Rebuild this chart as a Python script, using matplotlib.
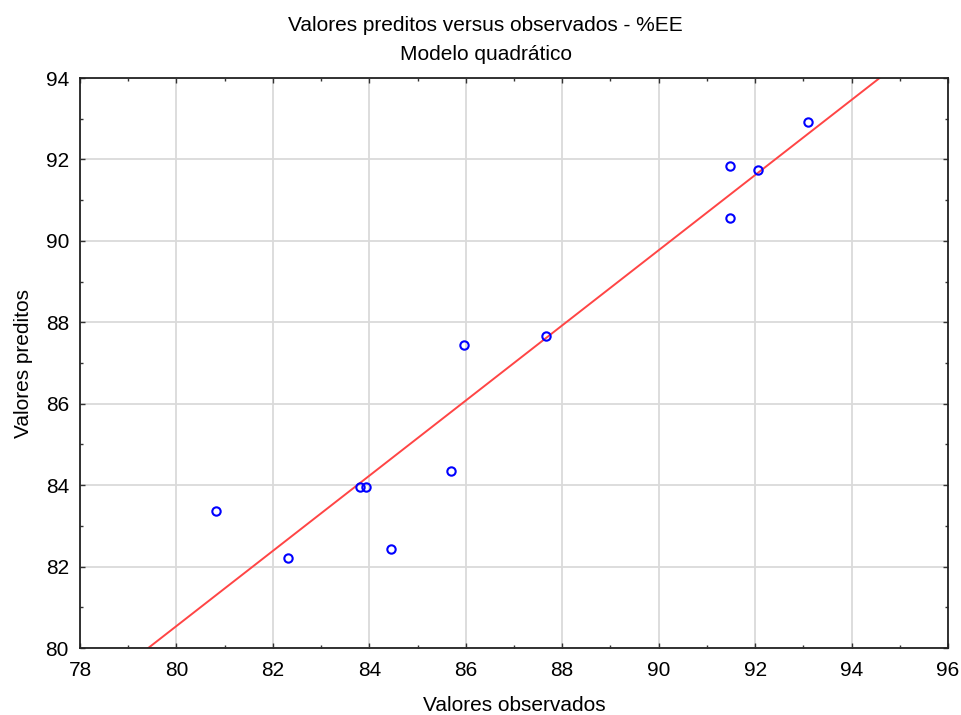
import numpy as np
import matplotlib.pyplot as plt
from matplotlib.ticker import MultipleLocator

plt.rcParams['font.family'] = ['Liberation Sans', 'DejaVu Sans']

observed = [80.82, 82.31, 83.81, 83.93, 84.45, 85.69, 85.96, 87.66, 91.48, 91.48, 92.06, 93.10]
predicted = [83.37, 82.21, 83.95, 83.95, 82.43, 84.35, 87.44, 87.66, 91.84, 90.55, 91.74, 92.92]

# fitted line: predicted = slope * observed + intercept
slope = 0.923
intercept = 6.70

fig = plt.figure(figsize=(9.62, 7.15), dpi=100)
ax = fig.add_axes([0.0832, 0.0937, 0.9022, 0.7972])

xx = np.array([78.0, 96.0])
ax.plot(xx, slope * xx + intercept, color='#ff4545', lw=1.4, zorder=2)
ax.plot(observed, predicted, 'o', mfc='none', mec='#0000ff', ms=6, mew=1.5, zorder=3)

ax.set_xlim(78, 96)
ax.set_ylim(80, 94)
ax.xaxis.set_major_locator(MultipleLocator(2))
ax.yaxis.set_major_locator(MultipleLocator(2))
ax.xaxis.set_minor_locator(MultipleLocator(1))
ax.yaxis.set_minor_locator(MultipleLocator(1))
ax.grid(True, which='major', color='#dadada', lw=1.3, zorder=0)
ax.set_axisbelow(True)
ax.tick_params(which='both', direction='in', top=True, right=True, labelsize=15, color='#333333')
ax.tick_params(which='major', length=3.5, width=1)
ax.tick_params(which='minor', length=2.5, width=1)
ax.tick_params(axis='x', pad=9)
ax.tick_params(axis='y', pad=8)
for s in ax.spines.values():
    s.set_linewidth(1.3)
    s.set_color('#222222')

ax.set_xlabel('Valores observados', fontsize=15, labelpad=12)
ax.set_ylabel('Valores preditos', fontsize=15, labelpad=9)

fig.text(0.505, 0.965, 'Valores preditos versus observados - %EE', ha='center', va='center', fontsize=15)
fig.text(0.505, 0.924, 'Modelo quadrático', ha='center', va='center', fontsize=15)

fig.savefig('out.png', dpi=100)
